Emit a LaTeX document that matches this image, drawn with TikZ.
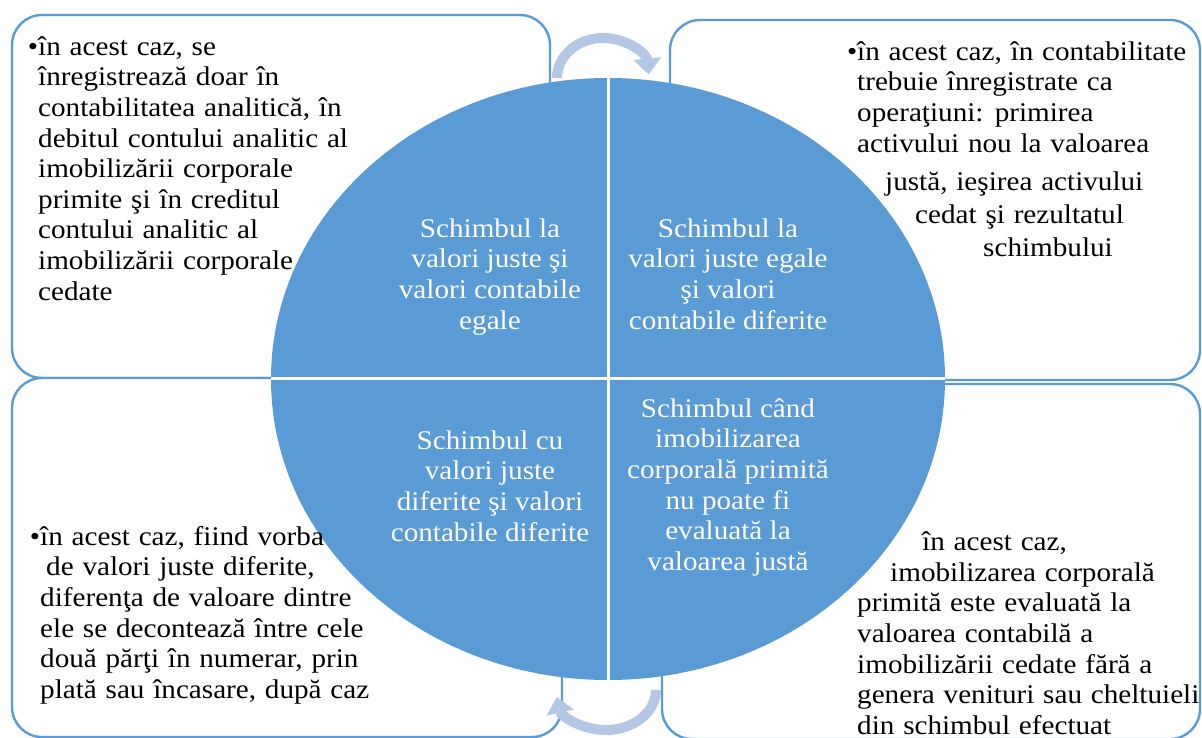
\documentclass[tikz,border=0pt]{standalone}
\usepackage{fontspec}
\setmainfont{Liberation Serif}[FakeStretch=1.08]
\usetikzlibrary{arrows.meta}
\definecolor{albastru}{HTML}{5B9BD5}
\definecolor{albastruDeschis}{HTML}{B4C7E7}
\newcommand\fontCaseta{\fontsize{27}{30.6}\selectfont\spaceskip=8.8pt plus 2pt minus 1pt\relax}
\begin{document}
\begin{tikzpicture}[x=1pt,y=-1pt,
    caseta/.style={draw=albastru,line width=2.4pt,rounded corners=30pt,fill=white},
    textCaseta/.style={anchor=north west,inner sep=0pt,align=left,font=\fontCaseta},
    textCerc/.style={anchor=north,inner sep=0pt,align=center,text=white,
      font=\fontsize{27}{30.6}\selectfont},
    sageata/.style={draw=albastruDeschis,line width=10pt,
      -{Triangle[width=27pt,length=16pt]}}]
  \useasboundingbox (0,0) rectangle (1202,738);
  % casetele din colturi
  \draw[caseta] (12,15) rectangle (550,378);
  \draw[caseta] (670,20) rectangle (1200,380);
  \draw[caseta] (12,378) rectangle (562,737);
  \draw[caseta] (662,384) rectangle (1200,739);
  % cercul impartit in patru
  \begin{scope}
    \clip (608,379) ellipse [x radius=337, y radius=301];
    \fill[albastru] (260,70) rectangle (955,690);
    \draw[white,line width=3pt] (608,70) -- (608,690) (260,378) -- (955,378);
  \end{scope}
  % sagetile
  \draw[sageata] (557,78) arc[start angle=180, end angle=355, x radius=46, y radius=40];
  \draw[sageata] (656,690) arc[start angle=0, end angle=170, x radius=50, y radius=40];
  % textele din cerc
  \node[textCerc] (egale) at (490,215.6)
    {\strut Schimbul la\\ valori juste şi\\ valori contabile\\ egale};
  \node[textCerc] (egaleDif) at (728,215.6)
    {\strut Schimbul la\\ valori juste egale\\ şi valori\\ contabile diferite};
  \node[textCerc] (diferite) at (490,427.6)
    {\strut Schimbul cu\\ valori juste\\ diferite şi valori\\ contabile diferite};
  \node[textCerc] (neevaluat) at (728,395.6)
    {\strut Schimbul când\\ imobilizarea\\ corporală primită\\ nu poate fi\\ evaluată la\\ valoarea justă};
  % textele din casete
  \node[textCaseta] (notaEgale) at (38,33.6)
    {\llap{\textbullet}\strut în acest caz, se\\ înregistrează doar în\\
     contabilitatea analitică, în\\ debitul contului analitic al\\
     imobilizării corporale\\ primite şi în creditul\\
     contului analitic al\\ imobilizării corporale\\ cedate};
  \node[textCaseta] (notaEgaleDif) at (857,38.6)
    {\llap{\textbullet}\strut în acest caz, în contabilitate\\ trebuie înregistrate ca\\
     operaţiuni: primirea\\ activului nou la valoarea\\[8pt]
     \hspace*{28pt}justă, ieşirea activului\\[2pt]
     \hspace*{58pt}cedat şi rezultatul\\[3pt]
     \hspace*{126pt}schimbului};
  \node[textCaseta] (notaDiferite) at (40,523.6)
    {\llap{\textbullet}\strut în acest caz, fiind vorba\\
     \hspace*{6pt}de valori juste diferite,\\ diferenţa de valoare dintre\\
     ele se decontează între cele\\ două părţi în numerar, prin\\
     plată sau încasare, după caz};
  \node[textCaseta] (notaNeevaluat) at (857,529)
    {\hspace*{65pt}\strut în acest caz,\\ \hspace*{33pt}imobilizarea corporală\\
     primită este evaluată la\\ valoarea contabilă a\\
     imobilizării cedate fără a\\ genera venituri sau cheltuieli\\
     din schimbul efectuat};
\end{tikzpicture}
\end{document}
